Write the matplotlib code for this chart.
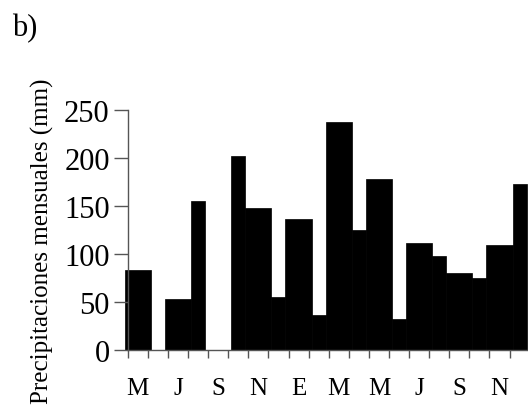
import numpy as np
import matplotlib
matplotlib.use("Agg")
import matplotlib.pyplot as plt

plt.rcParams['font.family'] = ['Liberation Serif', 'DejaVu Serif']

# precipitacion mensual, mayo a diciembre del año siguiente (mm)
months = ['May', 'Jun', 'Jul', 'Ago', 'Sep', 'Oct', 'Nov', 'Dic',
          'Ene', 'Feb', 'Mar', 'Abr', 'May', 'Jun', 'Jul', 'Ago',
          'Sep', 'Oct', 'Nov', 'Dic']
precip = [83, np.nan, 53, 155, np.nan, 202, 148, 55,
          136, 36, 238, 125, 178, 32, 111, 98,
          80, 75, 109, 173]
tick_labels = ['M', 'J', 'S', 'N', 'E', 'M', 'M', 'J', 'S', 'N']
yticks = [0, 50, 100, 150, 200, 250]

fig = plt.figure(figsize=(5.28, 4.10), dpi=100)
ax = fig.add_axes([127.7 / 528, 59.3 / 410, 402 / 528, 239.7 / 410])

x = np.arange(len(months))
# los meses con etiqueta salen mas anchos en el original
widths = [1.3 if i % 2 == 0 else 0.7 for i in range(len(months))]
ax.bar(x, precip, width=widths, color='black', edgecolor='black',
       linewidth=0.5, clip_on=False)

ax.set_xlim(-0.5, len(months) - 0.5)
ax.set_ylim(0, 250)

for side in ['top', 'right']:
    ax.spines[side].set_visible(False)
for side in ['left', 'bottom']:
    ax.spines[side].set_color('#555555')
    ax.spines[side].set_linewidth(1.0)

ax.set_yticks(yticks)
ax.tick_params(axis='y', direction='out', length=10, width=1.0,
               color='#555555', labelsize=22, pad=3)

ax.set_xticks(np.arange(-0.5, len(months), 1.0))
ax.set_xticklabels([])
ax.set_xticks(x[::2], minor=True)
ax.set_xticklabels(tick_labels, minor=True)
ax.tick_params(axis='x', which='major', direction='out', length=6,
               width=1.0, color='#555555')
ax.tick_params(axis='x', which='minor', length=0, labelsize=18, pad=20)

fig.text(42 / 528, 1 - 241 / 410, 'Precipitaciones mensuales (mm)',
         rotation=90, ha='center', va='center', fontsize=18)
fig.text(12 / 528, 1 - 36 / 410, 'b)', fontsize=22, va='baseline')

fig.savefig('out.png', dpi=100)
